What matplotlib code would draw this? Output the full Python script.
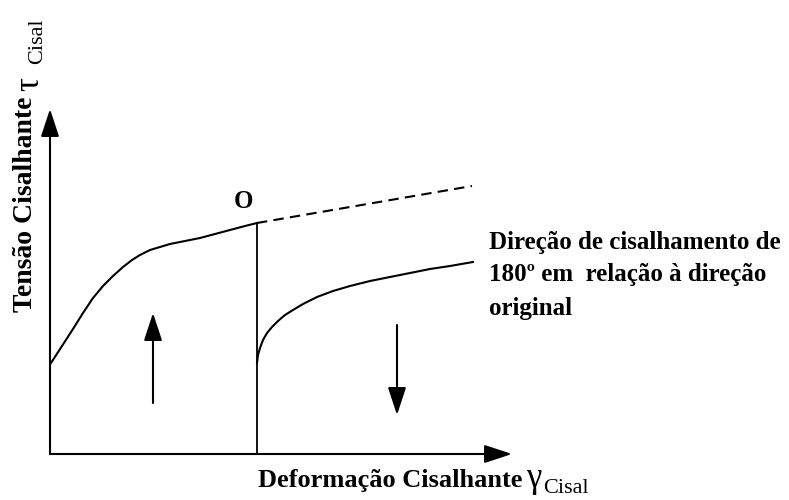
import numpy as np
import matplotlib
matplotlib.use('Agg')
import matplotlib.pyplot as plt

W, H = 789, 500

# curve before reversal (loading in original direction)
c1_x = [1, 12, 23, 33, 43, 53, 63, 73, 82, 90, 100, 110, 120, 135, 150, 165, 180, 195, 207]
c1_y = [91, 108, 125, 141, 156, 168, 178, 187, 194, 199, 204, 207, 210, 213, 216, 220, 224, 228, 231]
# dashed continuation (monotonic loading)
dash_x = [207, 422]
dash_y = [231, 268]
# curve after reversal (180 deg)
c2_x = [207, 208, 210, 213, 217, 222, 228, 235, 243, 253, 267, 283, 300, 320, 340, 360, 380, 400, 423]
c2_y = [91, 99, 106, 114, 121, 127, 133, 139, 144, 150, 157, 163, 168, 173, 177, 181, 185, 188, 192]
# unloading line at point O
unload_x = 207
unload_y = [0, 231]
# axis lengths
x_axis_end = 462
y_axis_end = 345
# direction arrows (x, y_start, y_end)
up_arrow = (103, 51, 141)
down_arrow = (347, 129, 39)

fig = plt.figure(figsize=(W / 100, H / 100), dpi=100)
ax = fig.add_axes([0, 0, 1, 1])
ax.set_xlim(-50, W - 50)
ax.set_ylim(-46, H - 46)
ax.axis('off')

arrow_kw = dict(arrowstyle='-|>,head_length=0.85,head_width=0.28', color='black',
                lw=1.5, mutation_scale=20, shrinkA=0, shrinkB=0)

# axes with arrows
ax.annotate('', xy=(x_axis_end, 0), xytext=(0, 0), arrowprops=arrow_kw)
ax.annotate('', xy=(0, y_axis_end), xytext=(0, 0), arrowprops=arrow_kw)

ax.plot(c1_x, c1_y, color='black', lw=1.5, solid_joinstyle='round')
ax.plot(dash_x, dash_y, color='black', lw=1.5, ls=(0, (5, 3)))
ax.plot(c2_x, c2_y, color='black', lw=1.5, solid_joinstyle='round')
ax.plot([unload_x, unload_x], unload_y, color='black', lw=1.3)

for x, y0, y1 in [up_arrow, down_arrow]:
    ax.annotate('', xy=(x, y1), xytext=(x, y0), arrowprops=arrow_kw)


def px(x, y):
    return x / W, 1 - y / H


bold = dict(family='Liberation Serif', fontweight='bold', color='black')
reg = dict(family='Liberation Serif', color='black')

# y label
fig.text(*px(32, 312), 'Tensão Cisalhante', rotation=90, rotation_mode='anchor',
         ha='left', va='baseline', fontsize=20, **bold)
fig.text(*px(38, 91), 'τ', rotation=90, rotation_mode='anchor',
         ha='left', va='baseline', fontsize=25, **reg)
fig.text(*px(42, 64), 'Cisal', rotation=90, rotation_mode='anchor',
         ha='left', va='baseline', fontsize=16, **reg)

# x label
fig.text(*px(522, 487), 'Deformação Cisalhante', ha='right', va='baseline',
         fontsize=19, **bold)
fig.text(*px(526, 487), 'γ', ha='left', va='baseline', fontsize=25, **reg)
fig.text(*px(543, 493), 'Cisal', ha='left', va='baseline', fontsize=16, **reg)

# point O
fig.text(*px(243, 201), 'O', ha='center', va='center', fontsize=18, **bold)

# annotation
lines = ['Direção de cisalhamento de', '180º em  relação à direção', 'original']
for i, s in enumerate(lines):
    fig.text(*px(489, 242 + 33 * i), s, ha='left', va='center', fontsize=18, **bold)

fig.savefig('out.png', dpi=100)
